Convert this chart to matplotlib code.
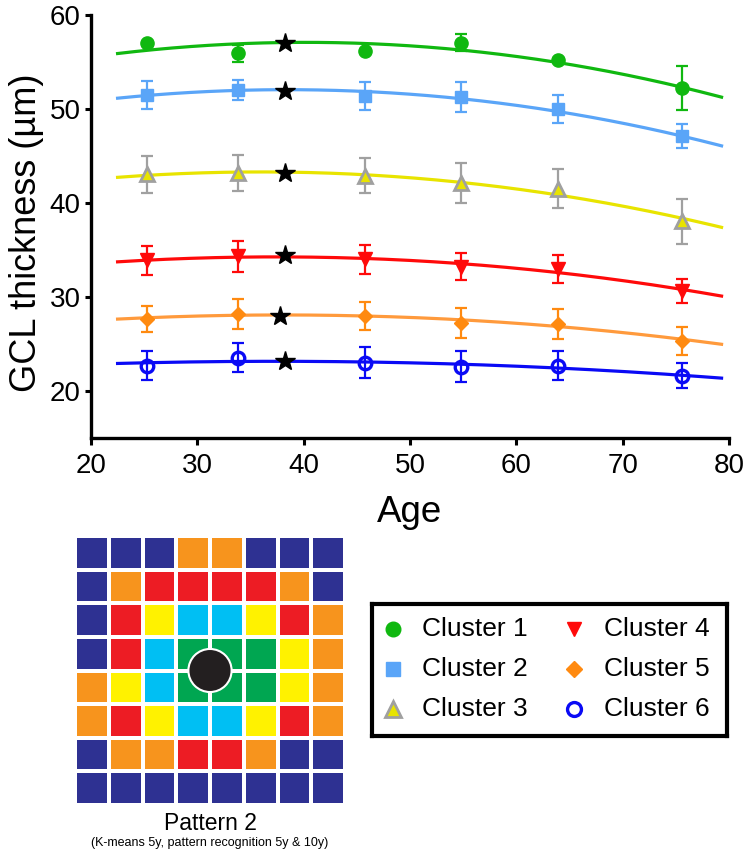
import numpy as np
import matplotlib
matplotlib.use("Agg")
import matplotlib.pyplot as plt
from matplotlib.colors import ListedColormap
from matplotlib.patches import Circle

SANS = "Liberation Sans"

# ---------------- data ----------------
ages = [25.3, 33.8, 45.8, 54.8, 63.9, 75.6]
clusters = ["Cluster 1", "Cluster 2", "Cluster 3", "Cluster 4", "Cluster 5", "Cluster 6"]
c1_mean = [56.97, 55.95, 56.2, 57.04, 55.24, 52.2]
c1_err = [0.0, 0.9, 0.0, 0.9, 0.0, 2.35]
c2_mean = [51.45, 52.05, 51.4, 51.25, 50.0, 47.1]
c2_err = [1.5, 1.05, 1.5, 1.6, 1.45, 1.3]
c3_mean = [43.05, 43.2, 42.9, 42.13, 41.53, 38.06]
c3_err = [2.0, 1.9, 1.87, 2.08, 2.1, 2.38]
c4_mean = [33.89, 34.31, 34.0, 33.2, 33.0, 30.61]
c4_err = [1.5, 1.6, 1.55, 1.43, 1.48, 1.27]
c5_mean = [27.65, 28.16, 28.0, 27.24, 27.15, 25.3]
c5_err = [1.41, 1.6, 1.52, 1.6, 1.62, 1.46]
c6_mean = [22.71, 23.54, 23.01, 22.57, 22.68, 21.64]
c6_err = [1.59, 1.57, 1.67, 1.66, 1.55, 1.36]

# fitted (quadratic) curves read at three ages
fit_ages = [22.5, 45.0, 79.3]
c1_fit = [55.9, 57.0, 51.26]
c2_fit = [51.15, 51.9, 46.08]
c3_fit = [42.73, 43.05, 37.41]
c4_fit = [33.74, 34.13, 30.1]
c5_fit = [27.65, 28.0, 24.97]
c6_fit = [22.93, 23.1, 21.37]

# peak stars
star_age = [38.2, 38.2, 38.2, 38.2, 37.75, 38.2]
star_val = [57.0, 51.96, 43.2, 34.5, 28.0, 23.14]

x_ticks = [20, 30, 40, 50, 60, 70, 80]
y_ticks = [20, 30, 40, 50, 60]

# retinal pattern grid (cluster number per cell, top row first)
pattern = [
    [6, 6, 6, 5, 5, 6, 6, 6],
    [6, 5, 4, 4, 4, 4, 5, 6],
    [6, 4, 3, 2, 2, 3, 4, 5],
    [6, 4, 2, 1, 1, 1, 3, 5],
    [5, 3, 2, 1, 1, 1, 3, 5],
    [5, 4, 3, 2, 2, 3, 4, 5],
    [6, 5, 5, 4, 4, 5, 6, 6],
    [6, 6, 6, 6, 6, 6, 6, 6],
]

means = [c1_mean, c2_mean, c3_mean, c4_mean, c5_mean, c6_mean]
errs = [c1_err, c2_err, c3_err, c4_err, c5_err, c6_err]
fits = [c1_fit, c2_fit, c3_fit, c4_fit, c5_fit, c6_fit]

# styles
line_col = ["#10B810", "#5AA5F8", "#E8E400", "#FF0A0A", "#FF9A3C", "#0A0AF5"]
mk = ["o", "s", "^", "v", "D", "o"]
mk_face = ["#10B810", "#5AA5F8", "#E8E400", "#FF0A0A", "#FF8A10", "none"]
mk_edge = ["#10B810", "#5AA5F8", "#A0A0A0", "#FF0A0A", "#FF8A10", "#0A0AF5"]
err_col = ["#10B810", "#5AA5F8", "#A0A0A0", "#FF0A0A", "#FF8A10", "#0A0AF5"]
mk_size = [9.5, 9, 10, 9.5, 7, 9]
mk_ew = [1, 1, 2, 1, 1, 2.4]

grid_cols = ["#00A651", "#00BFF3", "#FFF200", "#ED1C24", "#F7941D", "#2E3192"]

fig = plt.figure(figsize=(7.5, 8.59), dpi=100)

# ---------------- main plot ----------------
ax = fig.add_axes([91 / 750, 1 - 438 / 859, 638 / 750, 423 / 859])
xs = np.linspace(22.5, 79.3, 200)
for i in range(6):
    coef = np.polyfit(fit_ages, fits[i], 2)
    ax.plot(xs, np.polyval(coef, xs), color=line_col[i], lw=2.3, zorder=2)
    ax.errorbar(ages, means[i], yerr=errs[i], fmt="none", ecolor=err_col[i],
                elinewidth=1.6, capsize=4.5, capthick=1.6, zorder=3)
    ax.plot(ages, means[i], linestyle="none", marker=mk[i], ms=mk_size[i],
            mfc=mk_face[i], mec=mk_edge[i], mew=mk_ew[i], zorder=4)
ax.plot(star_age, star_val, linestyle="none", marker="*", ms=15, color="black", zorder=5)

ax.set_xlim(20, 80)
ax.set_ylim(15, 60)
ax.set_xticks(x_ticks)
ax.set_yticks(y_ticks)
ax.spines["top"].set_visible(False)
ax.spines["right"].set_visible(False)
for s in ("left", "bottom"):
    ax.spines[s].set_linewidth(2.4)
ax.tick_params(axis="x", direction="out", length=5, width=2.2, pad=6)
ax.tick_params(axis="y", direction="out", length=4.5, width=2.2, pad=3)
for lab in ax.get_xticklabels() + ax.get_yticklabels():
    lab.set_fontfamily(SANS)
    lab.set_fontsize(20)
ax.set_ylabel("GCL thickness (µm)", fontsize=26, family=SANS)
ax.yaxis.set_label_coords(-0.074, 0.485)
ax.set_xlabel("Age", fontsize=26.5, family=SANS, labelpad=11)

# ---------------- pattern grid ----------------
gax = fig.add_axes([75 / 750, 1 - 805 / 859, 270 / 750, 269 / 859])
cmap = ListedColormap(grid_cols)
arr = np.array(pattern)
gax.pcolormesh(np.arange(9), np.arange(9), arr, cmap=cmap, vmin=0.5, vmax=6.5,
               edgecolors="white", linewidth=1.6)
gax.set_xlim(0, 8)
gax.set_ylim(8, 0)
gax.add_patch(Circle((4, 4), 0.64, facecolor="#231F20", edgecolor="white", lw=1.5, zorder=5))
gax.axis("off")

fig.text(210 / 750, 1 - 823 / 859, "Pattern 2", ha="center", va="center", fontsize=16.5, family=SANS)
fig.text(210 / 750, 1 - 843 / 859, "(K-means 5y, pattern recognition 5y & 10y)", ha="center",
         va="center", fontsize=9, family=SANS)

# ---------------- legend ----------------
lax = fig.add_axes([372 / 750, 1 - 736 / 859, 355 / 750, 132 / 859])
lax.set_xlim(0, 355)
lax.set_ylim(132, 0)
lax.set_xticks([])
lax.set_yticks([])
for s in lax.spines.values():
    s.set_linewidth(3)
leg_x = [21, 21, 21, 202, 202, 202]
leg_tx = [50, 50, 50, 232, 232, 232]
leg_y = [25, 65, 105, 25, 65, 105]
for i in range(6):
    lax.plot(leg_x[i], leg_y[i], marker=mk[i], ms=mk_size[i] + 1, mfc=mk_face[i],
             mec=mk_edge[i], mew=mk_ew[i], linestyle="none")
    lax.text(leg_tx[i], leg_y[i], clusters[i], fontsize=19, family=SANS, va="center", ha="left")

fig.savefig("out.png", dpi=100)
